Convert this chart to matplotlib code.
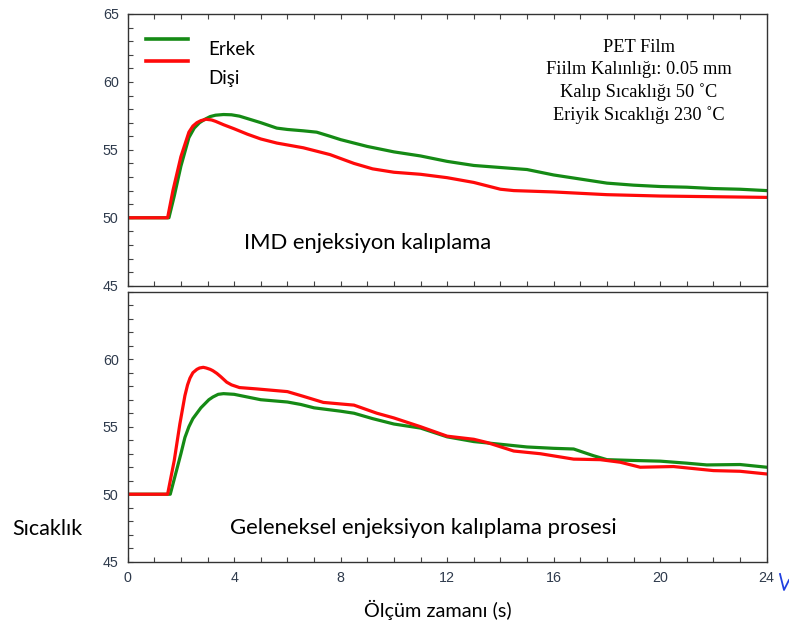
import matplotlib
matplotlib.use("Agg")
import matplotlib.pyplot as plt
from matplotlib.ticker import MultipleLocator
from matplotlib.lines import Line2D

# Temperature readings (°C) over measurement time (s)
imd_t_male = [0, 1.55, 1.75, 2.0, 2.3, 2.5, 2.7, 2.9, 3.1, 3.3, 3.6, 3.9, 4.2, 4.5, 5.0, 5.6,
              6.0, 6.6, 7.1, 7.6, 8.0, 9.0, 10.0, 11.0, 12.0, 13.0, 14.0, 15.0, 16.0, 17.0,
              18.0, 19.0, 20.0, 21.0, 22.0, 23.0, 24.0]
imd_male = [50, 50, 51.6, 53.8, 55.9, 56.6, 57.0, 57.25, 57.45, 57.55, 57.6, 57.58, 57.48,
            57.3, 57.0, 56.6, 56.5, 56.4, 56.3, 56.0, 55.75, 55.25, 54.85, 54.55, 54.15, 53.85,
            53.7, 53.55, 53.15, 52.85, 52.55, 52.4, 52.3, 52.25, 52.15, 52.1, 52.0]

imd_t_female = [0, 1.5, 1.7, 2.0, 2.3, 2.45, 2.6, 2.75, 2.95, 3.15, 3.3, 3.6, 4.0, 4.5, 5.0,
                5.6, 6.6, 7.6, 8.5, 9.2, 10.0, 11.0, 12.0, 13.0, 14.0, 14.5, 16.0, 18.0,
                20.0, 22.0, 24.0]
imd_female = [50, 50, 52.0, 54.5, 56.3, 56.75, 57.0, 57.15, 57.25, 57.2, 57.1, 56.85, 56.55,
              56.15, 55.8, 55.5, 55.15, 54.65, 54.0, 53.6, 53.35, 53.2, 52.95, 52.6, 52.1,
              52.0, 51.9, 51.7, 51.6, 51.55, 51.5]

conv_t_male = [0, 1.6, 1.8, 2.0, 2.15, 2.3, 2.45, 2.6, 2.75, 2.9, 3.05, 3.2, 3.4, 3.6, 4.0,
               4.5, 5.0, 6.0, 6.5, 7.0, 8.0, 8.5, 9.2, 10.0, 11.0, 12.0, 13.0, 14.0, 15.0,
               16.0, 16.75, 17.5, 18.0, 19.0, 20.0, 21.0, 21.75, 23.0, 24.0]
conv_male = [50, 50, 51.5, 53.0, 54.2, 55.0, 55.6, 56.0, 56.4, 56.7, 57.0, 57.2, 57.4, 57.45,
             57.4, 57.2, 57.0, 56.83, 56.65, 56.4, 56.15, 56.0, 55.6, 55.2, 54.9, 54.25, 53.9,
             53.7, 53.5, 53.4, 53.35, 52.85, 52.56, 52.5, 52.45, 52.3, 52.17, 52.2, 52.0]

conv_t_female = [0, 1.5, 1.75, 1.96, 2.15, 2.25, 2.34, 2.45, 2.6, 2.7, 2.84, 2.95, 3.1, 3.2,
                 3.35, 3.5, 3.72, 3.9, 4.2, 4.85, 6.0, 6.6, 7.35, 8.5, 9.36, 10.0, 11.0, 12.0,
                 13.0, 13.5, 14.5, 15.5, 16.75, 17.75, 18.5, 19.25, 20.5, 22.0, 23.0, 24.0]
conv_female = [50, 50, 52.5, 55.2, 57.3, 58.1, 58.6, 59.0, 59.25, 59.35, 59.4, 59.35, 59.25,
               59.15, 58.95, 58.7, 58.3, 58.1, 57.9, 57.8, 57.6, 57.25, 56.8, 56.6, 56.0,
               55.65, 55.0, 54.3, 54.07, 53.83, 53.2, 53.0, 52.6, 52.56, 52.37, 52.0, 52.05,
               51.75, 51.7, 51.5]

x_ticks = [0, 4, 8, 12, 16, 20, 24]
y_ticks_top = [45, 50, 55, 60, 65]
y_ticks_bottom = [45, 50, 55, 60]
series_labels = ["Erkek", "Dişi"]
green = "#158a15"
red = "#ff0a0a"
tick_color = "#2e3a4c"

fig = plt.figure(figsize=(7.89, 6.22), dpi=100)
ax_top = fig.add_axes([0.1618, 0.5407, 0.8099, 0.4368])
ax_bot = fig.add_axes([0.1618, 0.0969, 0.8099, 0.4341])

ax_top.plot(imd_t_male, imd_male, color=green, lw=2.3, solid_joinstyle="round")
ax_top.plot(imd_t_female, imd_female, color=red, lw=2.3, solid_joinstyle="round")
ax_bot.plot(conv_t_male, conv_male, color=green, lw=2.3, solid_joinstyle="round")
ax_bot.plot(conv_t_female, conv_female, color=red, lw=2.3, solid_joinstyle="round")

for ax, yt in ((ax_top, y_ticks_top), (ax_bot, y_ticks_bottom)):
    ax.set_xlim(0, 24)
    ax.set_ylim(45, 65)
    ax.set_xticks(x_ticks)
    ax.set_yticks(yt)
    ax.xaxis.set_minor_locator(MultipleLocator(1))
    ax.yaxis.set_minor_locator(MultipleLocator(1))
    ax.tick_params(which="both", direction="in", length=3.5, width=0.8, color="#444444",
                   right=False, labelsize=10.3, labelcolor=tick_color, pad=6.5)
    for s in ax.spines.values():
        s.set_linewidth(1.0)
        s.set_color("#333333")
    for lbl in ax.get_xticklabels() + ax.get_yticklabels():
        lbl.set_fontfamily("Liberation Sans")

ax_top.tick_params(which="both", top=True, labelbottom=False)
ax_bot.tick_params(which="both", top=False)

# Legend drawn as line samples with labels
leg_lines = [Line2D([0.028, 0.094], [0.907, 0.907], color=green, lw=2.6, transform=ax_top.transAxes),
             Line2D([0.028, 0.094], [0.827, 0.827], color=red, lw=2.6, transform=ax_top.transAxes)]
for ln in leg_lines:
    ax_top.add_line(ln)
ax_top.text(0.126, 0.870, series_labels[0], transform=ax_top.transAxes, fontsize=13.5,
            family="Lato", va="center", ha="left")
ax_top.text(0.126, 0.764, series_labels[1], transform=ax_top.transAxes, fontsize=13.5,
            family="Lato", va="center", ha="left")

ax_top.text(0.800, 0.752, "PET Film\nFiilm Kalınlığı: 0.05 mm\nKalıp Sıcaklığı 50 ˚C\nEriyik Sıcaklığı 230 ˚C",
            transform=ax_top.transAxes, ha="center", va="center", family="Liberation Serif",
            fontsize=13.2, linespacing=1.36)

ax_top.text(0.376, 0.158, "IMD enjeksiyon kalıplama", transform=ax_top.transAxes,
            ha="center", va="center", family="Lato", fontsize=15.8)
ax_bot.text(0.462, 0.125, "Geleneksel enjeksiyon kalıplama prosesi", transform=ax_bot.transAxes,
            ha="center", va="center", family="Lato", fontsize=15.9)

fig.text(12.7 / 789, 1 - 529 / 622, "Sıcaklık", ha="left", va="center", family="Lato",
         fontsize=15.5)
fig.text(438 / 789, 1 - 610 / 622, "Ölçüm zamanı (s)", ha="center", va="center",
         family="Lato", fontsize=14.3)

# small blue pen stroke beside the axis end
fig.add_artist(Line2D([780 / 789, 784 / 789, 789 / 789],
                      [1 - 574 / 622, 1 - 590 / 622, 1 - 580 / 622],
                      color="#2040e0", lw=1.3, transform=fig.transFigure))

fig.savefig("out.png", dpi=100)
